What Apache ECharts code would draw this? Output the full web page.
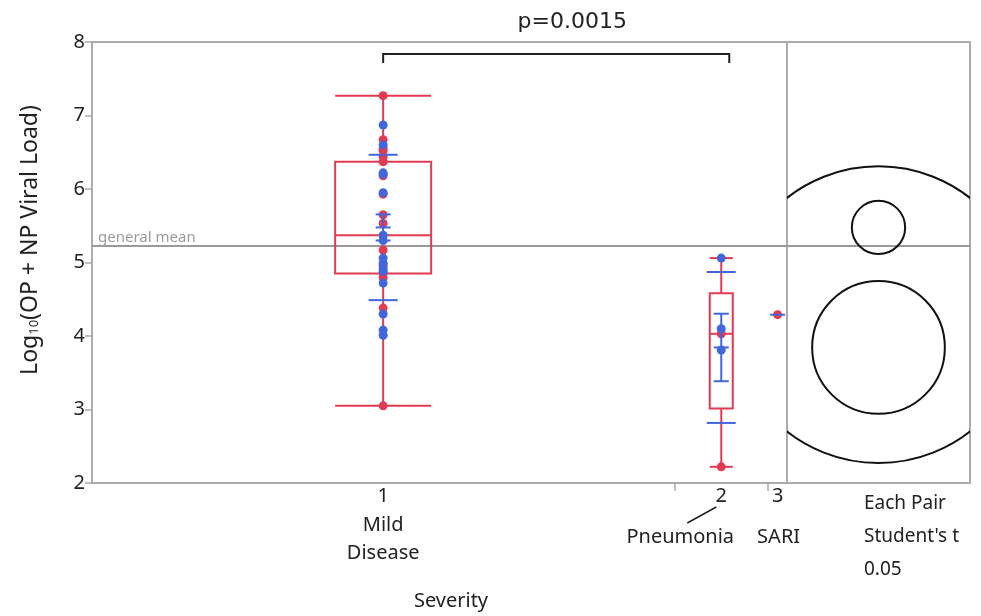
<!DOCTYPE html>
<html>
<head>
<meta charset="utf-8">
<script src="https://cdn.jsdelivr.net/npm/echarts@6/dist/echarts.min.js"></script>
<style>
  html, body { margin: 0; padding: 0; background: #fff; }
  #c { width: 981px; height: 616px; }
</style>
</head>
<body>
<div id="c"></div>
<script>
// ---- data: log10 viral load per subject, split by the two colour classes ----
const groupCodes = ['1', '2', '3'];
const groupNames = ['Mild\nDisease', 'Pneumonia', 'SARI'];
const mildRed  = [7.27, 6.67, 6.55, 6.52, 6.44, 6.37, 6.18, 5.93, 5.65, 5.53, 5.17, 4.96, 4.85, 4.79, 4.38, 3.05];
const mildBlue = [6.87, 6.60, 6.22, 6.20, 5.95, 5.37, 5.30, 5.06, 4.99, 4.92, 4.88, 4.72, 4.30, 4.08, 4.01];
const pneuRed  = [4.03, 2.22];
const pneuBlue = [5.06, 4.10, 3.81];
const sariRed  = [4.29];
const sariBlue = [];
const yTicks = [2, 3, 4, 5, 6, 7, 8];
const pValueText = 'p=0.0015';
const tCrit = 2.032; // Student's t, alpha 0.05 (two-sided), pooled df

// ---- styling ----
const RED = '#e23a52';
const BLUE = '#4267dc';
const FRAME = '#ababab';
const FONT = '"Noto Sans", "Open Sans", sans-serif';
const BOX_HALF_PX = [48, 11.5, 0];
const SD_HALF_PX = 14.5;
const SE_HALF_PX = 7.5;

// ---- statistics ----
const redSets = [mildRed, pneuRed, sariRed];
const blueSets = [mildBlue, pneuBlue, sariBlue];
const allSets = redSets.map((r, i) => r.concat(blueSets[i]));
const counts = allSets.map(a => a.length);
const totalN = counts.reduce((a, b) => a + b, 0);
const starts = [];
counts.reduce((acc, n, i) => { starts[i] = acc; return acc + n; }, 0);
const centers = counts.map((n, i) => starts[i] + n / 2);

function q(sorted, p) {
  const n = sorted.length, h = (n + 1) * p, lo = Math.floor(h);
  if (lo < 1) return sorted[0];
  if (lo >= n) return sorted[n - 1];
  return sorted[lo - 1] + (h - lo) * (sorted[lo] - sorted[lo - 1]);
}
const stats = allSets.map(a => {
  const s = a.slice().sort((x, y) => x - y);
  const n = s.length;
  const mean = s.reduce((x, y) => x + y, 0) / n;
  const ss = s.reduce((x, y) => x + (y - mean) * (y - mean), 0);
  const sd = n > 1 ? Math.sqrt(ss / (n - 1)) : 0;
  const q1 = q(s, 0.25), med = q(s, 0.5), q3 = q(s, 0.75);
  const iqr = q3 - q1;
  const lo = s.find(v => v >= q1 - 1.5 * iqr);
  const hi = s.slice().reverse().find(v => v <= q3 + 1.5 * iqr);
  return { n, mean, sd, se: n > 1 ? sd / Math.sqrt(n) : 0, ss, q1, med, q3, lo, hi };
});
const grandMean = allSets.flat().reduce((a, b) => a + b, 0) / totalN;
const rmse = Math.sqrt(stats.reduce((a, s) => a + s.ss, 0) / (totalN - stats.length));
const circleRadius = stats.map(s => tCrit * rmse / Math.sqrt(s.n));

const chart = echarts.init(document.getElementById('c'));

const option = {
  animation: false,
  textStyle: { fontFamily: FONT, color: '#222' },
  grid: [
    { left: 92, top: 42, width: 695, height: 441, show: true, borderColor: FRAME, borderWidth: 2, backgroundColor: 'transparent' },
    { left: 787, top: 42, width: 183, height: 441, show: true, borderColor: FRAME, borderWidth: 2, backgroundColor: 'transparent' }
  ],
  xAxis: [
    {
      type: 'value', gridIndex: 0, min: 0, max: totalN,
      splitLine: { show: false },
      axisLine: { show: true, lineStyle: { color: FRAME, width: 2 } },
      axisTick: { show: true, customValues: starts.slice(1), length: 8, lineStyle: { color: FRAME, width: 1.5 } },
      axisLabel: {
        customValues: centers, margin: 3, fontSize: 20, color: '#222', fontFamily: FONT,
        formatter: v => { const i = centers.findIndex(c => Math.abs(c - v) < 1e-6); return i >= 0 ? groupCodes[i] : ''; }
      }
    },
    { type: 'value', gridIndex: 1, min: 0, max: 1, show: false }
  ],
  yAxis: [
    {
      type: 'value', gridIndex: 0, min: yTicks[0], max: yTicks[yTicks.length - 1], interval: 1,
      splitLine: { show: false },
      axisLine: { show: true, lineStyle: { color: FRAME, width: 2 } },
      axisTick: { show: true, length: 7, lineStyle: { color: FRAME, width: 1.5 } },
      axisLabel: { fontSize: 20, color: '#222', margin: 7, fontFamily: FONT }
    },
    { type: 'value', gridIndex: 1, min: yTicks[0], max: yTicks[yTicks.length - 1], show: false }
  ],
  series: [
    // general mean across both panels
    {
      type: 'line', xAxisIndex: 0, yAxisIndex: 0, silent: true, showSymbol: false, z: 1,
      lineStyle: { color: '#9a9a9a', width: 2 },
      data: [[0, grandMean], [totalN, grandMean]]
    },
    {
      type: 'line', xAxisIndex: 1, yAxisIndex: 1, silent: true, showSymbol: false, z: 1,
      lineStyle: { color: '#9a9a9a', width: 2 },
      data: [[0, grandMean], [1, grandMean]]
    },
    // box plots
    {
      type: 'custom', xAxisIndex: 0, yAxisIndex: 0, silent: true, z: 2,
      data: stats.map((s, i) => [centers[i], s.lo, s.q1, s.med, s.q3, s.hi, s.n]),
      renderItem: (params, api) => {
        const i = params.dataIndex;
        const n = api.value(6);
        if (n < 2) return { type: 'group', children: [] };
        const cx = api.value(0);
        const pLo = api.coord([cx, api.value(1)]);
        const pQ1 = api.coord([cx, api.value(2)]);
        const pMd = api.coord([cx, api.value(3)]);
        const pQ3 = api.coord([cx, api.value(4)]);
        const pHi = api.coord([cx, api.value(5)]);
        const hw = BOX_HALF_PX[i];
        const st = { stroke: RED, lineWidth: 2, fill: null };
        const ln = (x1, y1, x2, y2) => ({ type: 'line', shape: { x1, y1, x2, y2 }, style: st });
        const x = pQ1[0];
        return {
          type: 'group',
          children: [
            { type: 'rect', shape: { x: x - hw, y: pQ3[1], width: 2 * hw, height: pQ1[1] - pQ3[1] }, style: st },
            ln(x - hw, pMd[1], x + hw, pMd[1]),
            ln(x, pQ3[1], x, pHi[1]),
            ln(x, pQ1[1], x, pLo[1]),
            ln(x - hw, pHi[1], x + hw, pHi[1]),
            ln(x - hw, pLo[1], x + hw, pLo[1])
          ]
        };
      }
    },
    // individual subjects
    {
      type: 'scatter', xAxisIndex: 0, yAxisIndex: 0, silent: true, z: 3,
      symbolSize: 9, itemStyle: { color: RED, opacity: 1 },
      data: redSets.flatMap((a, i) => a.map(v => [centers[i], v]))
    },
    {
      type: 'scatter', xAxisIndex: 0, yAxisIndex: 0, silent: true, z: 3,
      symbolSize: 9, itemStyle: { color: BLUE, opacity: 1 },
      data: blueSets.flatMap((a, i) => a.map(v => [centers[i], v]))
    },
    // mean with standard error bars and standard deviation lines
    {
      type: 'custom', xAxisIndex: 0, yAxisIndex: 0, silent: true, z: 4,
      data: stats.map((s, i) => [centers[i], s.mean, s.se, s.sd, s.n]),
      renderItem: (params, api) => {
        const cx = api.value(0), m = api.value(1), se = api.value(2), sd = api.value(3), n = api.value(4);
        const st = { stroke: BLUE, lineWidth: 2, fill: null };
        const pM = api.coord([cx, m]);
        const x = pM[0];
        const ln = (x1, y1, x2, y2) => ({ type: 'line', shape: { x1, y1, x2, y2 }, style: st });
        const ch = [ln(x - SE_HALF_PX, pM[1], x + SE_HALF_PX, pM[1])];
        if (n > 1) {
          const pSeHi = api.coord([cx, m + se]), pSeLo = api.coord([cx, m - se]);
          const pSdHi = api.coord([cx, m + sd]), pSdLo = api.coord([cx, m - sd]);
          ch.push(ln(x, pSeHi[1], x, pSeLo[1]));
          ch.push(ln(x - SE_HALF_PX, pSeHi[1], x + SE_HALF_PX, pSeHi[1]));
          ch.push(ln(x - SE_HALF_PX, pSeLo[1], x + SE_HALF_PX, pSeLo[1]));
          ch.push(ln(x - SD_HALF_PX, pSdHi[1], x + SD_HALF_PX, pSdHi[1]));
          ch.push(ln(x - SD_HALF_PX, pSdLo[1], x + SD_HALF_PX, pSdLo[1]));
        }
        return { type: 'group', children: ch };
      }
    },
    // comparison circles
    {
      type: 'custom', xAxisIndex: 1, yAxisIndex: 1, silent: true, clip: true, z: 3,
      data: stats.map((s, i) => [0.5, s.mean, circleRadius[i]]),
      renderItem: (params, api) => {
        const c = api.coord([api.value(0), api.value(1)]);
        const r = api.size([0, api.value(2)])[1];
        return { type: 'circle', shape: { cx: c[0], cy: c[1], r }, style: { stroke: '#111', lineWidth: 2, fill: null } };
      }
    }
  ]
};
chart.setOption(option);

// ---- annotations positioned through the axes ----
const px = (x, y) => chart.convertToPixel({ gridIndex: 0 }, [x, y]);
const g1 = px(centers[0], 8), g2 = px(centers[1], 8);
const yTop = g1[1];
const meanPx = px(0, grandMean);
const graphics = [
  // comparison bracket + p-value
  { type: 'polyline', shape: { points: [[g1[0], yTop + 21], [g1[0], yTop + 12], [g2[0] + 8, yTop + 12], [g2[0] + 8, yTop + 21]] },
    style: { stroke: '#222', lineWidth: 2, fill: null } },
  { type: 'text', x: (g1[0] + g2[0] + 8) / 2 + 16, y: yTop - 20, style: { text: pValueText, font: '22px "DejaVu Sans", sans-serif', fill: '#222', align: 'center', verticalAlign: 'middle' } },
  // general mean label
  { type: 'text', x: meanPx[0] + 6, y: meanPx[1] - 1, style: { text: 'general mean', font: '15px ' + FONT, fill: '#9a9a9a', align: 'left', verticalAlign: 'bottom' } },
  // y axis title
  { type: 'text', x: 30, y: 240, rotation: Math.PI / 2,
    style: { text: 'Log{s|10}(OP + NP Viral Load)', font: '23px ' + FONT, fill: '#222', align: 'center', verticalAlign: 'middle',
      rich: { s: { fontSize: 13, fontFamily: 'Noto Sans', fill: '#222', padding: [9, 0, 0, 0] } } } },
  // category names
  { type: 'text', x: px(centers[0], 2)[0], y: 539, style: { text: groupNames[0], font: '20px ' + FONT, fill: '#222', align: 'center', verticalAlign: 'middle', lineHeight: 28 } },
  { type: 'text', x: px(centers[1], 2)[0] - 41, y: 537, style: { text: groupNames[1], font: '20px ' + FONT, fill: '#222', align: 'center', verticalAlign: 'middle' } },
  { type: 'line', shape: { x1: px(centers[1], 2)[0] - 5, y1: 507, x2: px(centers[1], 2)[0] - 34, y2: 523 }, style: { stroke: '#222', lineWidth: 1.5 } },
  { type: 'text', x: px(centers[2], 2)[0] + 1, y: 537, style: { text: groupNames[2], font: '20px ' + FONT, fill: '#222', align: 'center', verticalAlign: 'middle' } },
  // x axis title
  { type: 'text', x: 451, y: 601, style: { text: 'Severity', font: '20px ' + FONT, fill: '#222', align: 'center', verticalAlign: 'middle' } },
  // comparison panel caption
  { type: 'text', x: 864, y: 537, style: { text: "Each Pair\nStudent's t\n0.05", font: '19px ' + FONT, fill: '#222', align: 'left', verticalAlign: 'middle', lineHeight: 33 } }
];
chart.setOption({ graphic: graphics });
</script>
</body>
</html>
